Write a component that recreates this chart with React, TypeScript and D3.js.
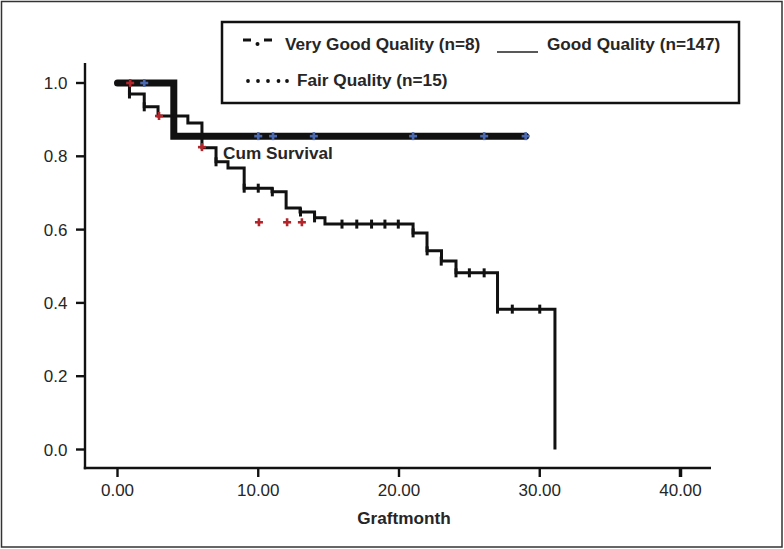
import React from "react";
import * as d3 from "d3";

// Good Quality (n=147) Kaplan–Meier steps
const goodTimes = [0, 0.85, 1.9, 2.88, 5.0, 6.0, 7.0, 7.85, 9.0, 10.98, 11.98, 12.97, 14.0, 14.74, 21.0, 21.99, 23.02, 24.05, 27.0, 31.08];
const goodSurv = [1.0, 0.97, 0.935, 0.91, 0.891, 0.823, 0.785, 0.768, 0.713, 0.703, 0.659, 0.648, 0.632, 0.615, 0.591, 0.542, 0.514, 0.482, 0.383, 0.0];
const goodCensorT = [0.85, 1.9, 7.0, 9.0, 10.0, 11.0, 13.0, 14.0, 15.95, 17.0, 18.05, 19.0, 19.95, 21.0, 22.0, 23.0, 24.05, 25.0, 26.05, 27.0, 28.05, 30.0];
const goodCensorS = [0.97, 0.935, 0.785, 0.713, 0.713, 0.703, 0.648, 0.632, 0.615, 0.615, 0.615, 0.615, 0.615, 0.591, 0.542, 0.514, 0.482, 0.482, 0.482, 0.383, 0.383, 0.383];

// Very Good Quality (n=8)
const vgTimes = [0, 4.0, 29.0];
const vgSurv = [1.0, 0.855, 0.855];
const vgCensorT = [1.9, 10.0, 11.05, 13.95, 21.0, 26.05, 29.0];
const vgCensorS = [1.0, 0.855, 0.855, 0.855, 0.855, 0.855, 0.855];

// Fair Quality (n=15) censor marks
const fairCensorT = [0.9, 2.95, 6.0, 10.05, 12.05, 13.1];
const fairCensorS = [1.0, 0.91, 0.825, 0.62, 0.62, 0.62];

const xTicks = [0, 10, 20, 30, 40];
const yTicks = [0, 0.2, 0.4, 0.6, 0.8, 1.0];

const legendItems = ["Very Good Quality (n=8)", "Good Quality (n=147)", "Fair Quality (n=15)"];
const yAxisLabel = "Cum Survival";
const xAxisLabel = "Graftmonth";

export default function App() {
  const W = 784, H = 549;
  const x = d3.scaleLinear().domain([0, 40]).range([117.5, 680.5]);
  const y = d3.scaleLinear().domain([0, 1]).range([449.5, 83]);
  const font = "'Liberation Sans', Arial, sans-serif";
  const txt = "#262626";

  const stepLine = d3
    .line<[number, number]>()
    .x((d) => x(d[0]))
    .y((d) => y(d[1]))
    .curve(d3.curveStepAfter);

  const goodPts: [number, number][] = goodTimes.map((t, i) => [t, goodSurv[i]]);
  const vgPts: [number, number][] = vgTimes.map((t, i) => [t, vgSurv[i]]);

  const plus = (cx: number, cy: number, color: string, key: string) => (
    <g key={key} stroke={color} strokeWidth={2.6}>
      <line x1={cx - 4} x2={cx + 4} y1={cy} y2={cy} />
      <line x1={cx} x2={cx} y1={cy - 4} y2={cy + 4} />
    </g>
  );

  const axisY0 = 468;
  const axisX0 = 85;
  const lf = 17.2;

  return (
    <svg
      width={W}
      height={H}
      style={{ position: "absolute", left: 0, top: 0, display: "block", background: "#fff" }}
      fontFamily={font}
    >
      <rect x={1.5} y={1.5} width={W - 3.5} height={H - 3.5} fill="#fff" stroke="#333" strokeWidth={1.5} />

      {/* axes */}
      <line x1={axisX0} x2={axisX0} y1={63} y2={axisY0 + 1.2} stroke="#111" strokeWidth={2.4} />
      <line x1={axisX0 - 1.2} x2={711} y1={axisY0} y2={axisY0} stroke="#111" strokeWidth={2.4} />
      {yTicks.map((v) => (
        <g key={"yt" + v}>
          <line x1={axisX0 - 9} x2={axisX0} y1={y(v)} y2={y(v)} stroke="#111" strokeWidth={2.4} />
          <text x={67.5} y={y(v)} dy="0.36em" textAnchor="end" fontSize={17} fill={txt}>
            {v.toFixed(1)}
          </text>
        </g>
      ))}
      {xTicks.map((v) => (
        <g key={"xt" + v}>
          <line x1={x(v)} x2={x(v)} y1={axisY0} y2={axisY0 + 9} stroke="#111" strokeWidth={v === 40 ? 3.5 : 2.4} />
          <text x={x(v)} y={495.5} textAnchor="middle" fontSize={17} fill={txt}>
            {v.toFixed(2)}
          </text>
        </g>
      ))}
      <text x={404} y={524} textAnchor="middle" fontSize={lf} fontWeight="bold" fill={txt}>
        {xAxisLabel}
      </text>

      {/* Very good thick line */}
      <path d={stepLine(vgPts) || ""} fill="none" stroke="#111" strokeWidth={7} strokeLinecap="round" strokeLinejoin="miter" />

      {/* Good line */}
      <path d={stepLine(goodPts) || ""} fill="none" stroke="#111" strokeWidth={3} />
      {goodCensorT.map((t, i) => (
        <line key={"gc" + i} x1={x(t)} x2={x(t)} y1={y(goodCensorS[i]) - 4.5} y2={y(goodCensorS[i]) + 4.5} stroke="#111" strokeWidth={3} />
      ))}

      {vgCensorT.map((t, i) => plus(x(t), y(vgCensorS[i]), "#4a69b0", "vc" + i))}
      {fairCensorT.map((t, i) => plus(x(t), y(fairCensorS[i]), "#b1252b", "fc" + i))}

      <text x={223} y={158.5} fontSize={lf} fontWeight="bold" fill={txt}>
        {yAxisLabel}
      </text>

      {/* legend */}
      <rect x={222} y={22} width={517} height={81} fill="#fff" stroke="#111" strokeWidth={2.5} />
      <line x1={243} x2={251} y1={40} y2={40} stroke="#111" strokeWidth={3} />
      <circle cx={257.5} cy={44} r={2} fill="#111" />
      <line x1={264} x2={272} y1={40} y2={40} stroke="#111" strokeWidth={3} />
      <text x={285} y={49.5} fontSize={lf} fontWeight="bold" fill={txt}>
        {legendItems[0]}
      </text>
      <line x1={497} x2={538} y1={52} y2={52} stroke="#222" strokeWidth={1.6} />
      <text x={547} y={49.5} fontSize={lf} fontWeight="bold" fill={txt}>
        {legendItems[1]}
      </text>
      {[248, 258, 268, 278.5, 287].map((cx, i) => (
        <circle key={"ld" + i} cx={cx} cy={81} r={1.9} fill="#111" />
      ))}
      <text x={297} y={86} fontSize={lf} fontWeight="bold" fill={txt}>
        {legendItems[2]}
      </text>
    </svg>
  );
}
